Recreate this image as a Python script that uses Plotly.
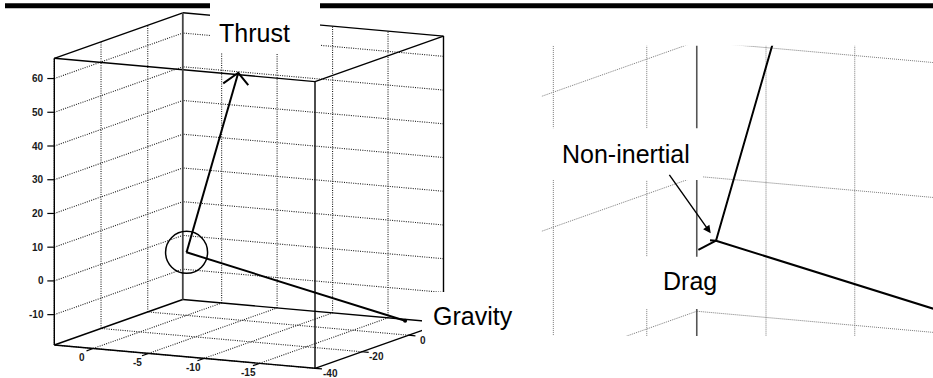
import numpy as np
import plotly.graph_objects as go

# ---------------- data ----------------
# main 3-D view: axis limits and ticks
x_lim = [-20.0, 3.5]
y_lim = [-40.0, 15.0]
z_lim = [-19.0, 66.0]
x_ticks = [0, -5, -10, -15]
y_ticks = [-40, -20, 0]
z_ticks = [-10, 0, 10, 20, 30, 40, 50, 60]

# zoomed view (right): limits and ticks
zx_lim = [-1.0, 0.156]
zy_lim = [-3.0, 0.535]
zz_lim = [-2.0, 2.0]
zx_ticks = [0, -0.2, -0.4, -0.6, -0.8, -1.0]
zy_ticks = [0, -1, -2, -3]
zz_ticks = [-2, -1, 0, 1, 2]

# body position and force vectors
body_position = [0.0, 0.0, -0.3]
thrust = [-4.66, 0.0, 54.6]
gravity = [-19.7, 0.0, -14.5]
drag = [-0.015, -0.26, 0.0]
non_inertial = [0.0135, 0.0, 0.0]

labels = ["Thrust", "Gravity", "Non-inertial", "Drag"]

# ---------------- camera (style) ----------------
W, H = 933, 378
EDGE_X = np.array([260.7, 23.3])   # screen span of x axis (from x max to x min)
EDGE_Y = np.array([128.5, -45.5])  # screen span of y axis (min -> max)
EDGE_Z = np.array([0.0, -286.7])   # screen span of z axis (min -> max)
MAIN_ANCHOR = np.array([54.3, 345.0])  # screen point of (xmax, ymin, zmin)
ZOOM_ANCHOR = np.array([716.0, 240.7])  # screen point of body in zoomed view
ZOOM_K = 40.0
ZOOM_BOX = [541.7, 933.0, 45.7, 336.0]  # u0, u1, v0, v1 of zoom viewport

ux = -EDGE_X / (x_lim[1] - x_lim[0])
uy = EDGE_Y / (y_lim[1] - y_lim[0])
uz = EDGE_Z / (z_lim[1] - z_lim[0])


def proj_main(p):
    x, y, z = p
    return MAIN_ANCHOR + ux * (x - x_lim[1]) + uy * (y - y_lim[0]) + uz * (z - z_lim[0])


def proj_zoom(p):
    x, y, z = p
    o = body_position
    return ZOOM_ANCHOR + ZOOM_K * (ux * (x - o[0]) + uy * (y - o[1]) + uz * (z - o[2]))


def segs(pairs, proj):
    us, vs = [], []
    for a, b in pairs:
        pa, pb = proj(a), proj(b)
        us += [pa[0], pb[0], None]
        vs += [pa[1], pb[1], None]
    return us, vs


def grid_pairs(xl, yl, zl, xt, yt, zt):
    x0, x1 = xl
    y0, y1 = yl
    z0, z1 = zl
    P = []
    # back wall (y = ymax)
    for t in xt:
        P.append(((t, y1, z0), (t, y1, z1)))
    for t in zt:
        P.append(((x0, y1, t), (x1, y1, t)))
    # left wall (x = xmax)
    for t in yt:
        P.append(((x1, t, z0), (x1, t, z1)))
    for t in zt:
        P.append(((x1, y0, t), (x1, y1, t)))
    return P


fig = go.Figure()
BLACK = "#000000"

# ---------- main view ----------
gp = grid_pairs(x_lim, y_lim, z_lim, x_ticks, y_ticks, z_ticks)
x0, x1 = x_lim
y0, y1 = y_lim
z0, z1 = z_lim
for t in x_ticks:
    gp.append(((t, y0, z0), (t, y1, z0)))
for t in y_ticks:
    gp.append(((x0, t, z0), (x1, t, z0)))
u, v = segs(gp, proj_main)
fig.add_trace(go.Scatter(x=u, y=v, mode="lines", hoverinfo="skip",
                         line=dict(color="#1e1e1e", width=1.1, dash="1px,1.3px")))

# box edges
box = []
for zz in (z0, z1):
    box += [((x1, y0, zz), (x0, y0, zz)), ((x0, y0, zz), (x0, y1, zz)),
            ((x0, y1, zz), (x1, y1, zz)), ((x1, y1, zz), (x1, y0, zz))]
for (xx, yy) in ((x1, y0), (x0, y0), (x0, y1)):
    box.append(((xx, yy, z0), (xx, yy, z1)))
u, v = segs(box, proj_main)
fig.add_trace(go.Scatter(x=u, y=v, mode="lines", hoverinfo="skip",
                         line=dict(color=BLACK, width=1.4)))
u, v = segs([((x1, y1, z0), (x1, y1, z1))], proj_main)
fig.add_trace(go.Scatter(x=u, y=v, mode="lines", hoverinfo="skip",
                         line=dict(color="#444444", width=1.8)))

# tick marks
TL = 7.0
tu, tv = [], []
ann = []
TICK_FONT = dict(family="Liberation Sans, Arial", size=10, color="#1a1a1a", weight="bold")
for t in z_ticks:
    p = proj_main((x1, y0, t))
    tu += [p[0], p[0] - TL, None]
    tv += [p[1], p[1], None]
    ann.append(dict(x=p[0] - TL - 1.5, y=p[1], text=str(t), xanchor="right", yanchor="middle",
                    showarrow=False, font=TICK_FONT, xref="x", yref="y"))
dny = -uy / np.linalg.norm(uy)
for t in x_ticks:
    p = proj_main((t, y0, z0))
    q = p + dny * TL
    tu += [p[0], q[0], None]
    tv += [p[1], q[1], None]
    ann.append(dict(x=p[0] - 11, y=p[1] + 9.5, text=str(t), xanchor="center", yanchor="middle",
                    showarrow=False, font=TICK_FONT, xref="x", yref="y"))
dnx = EDGE_X / np.linalg.norm(EDGE_X)
for t in y_ticks:
    p = proj_main((x0, t, z0))
    q = p + dnx * TL
    tu += [p[0], q[0], None]
    tv += [p[1], q[1], None]
    ann.append(dict(x=p[0] + 15, y=p[1] + 5, text=str(t), xanchor="center", yanchor="middle",
                    showarrow=False, font=TICK_FONT, xref="x", yref="y"))
fig.add_trace(go.Scatter(x=tu, y=tv, mode="lines", hoverinfo="skip",
                         line=dict(color=BLACK, width=1.2)))

# vectors (main)
O = np.array(body_position)
po = proj_main(O)
pt = proj_main(O + np.array(thrust))
pg = proj_main(O + np.array(gravity))
pd_ = proj_main(O + np.array(drag))
u = [po[0], pt[0], None, po[0], pg[0], None, po[0], pd_[0]]
v = [po[1], pt[1], None, po[1], pg[1], None, po[1], pd_[1]]
fig.add_trace(go.Scatter(x=u, y=v, mode="lines", hoverinfo="skip",
                         line=dict(color=BLACK, width=2)))


def rot(d, a):
    c, s = np.cos(a), np.sin(a)
    return np.array([d[0] * c - d[1] * s, d[0] * s + d[1] * c])


d = (po - pt) / np.linalg.norm(po - pt)
b1 = pt + rot(d, np.radians(38.7)) * 18.4
b2 = pt + rot(d, np.radians(-55)) * 15.9
fig.add_trace(go.Scatter(x=[b1[0], pt[0], b2[0]], y=[b1[1], pt[1], b2[1]], mode="lines",
                         hoverinfo="skip", line=dict(color=BLACK, width=2)))
fig.add_trace(go.Scatter(x=[pg[0]], y=[pg[1]], mode="markers", hoverinfo="skip",
                         marker=dict(color=BLACK, size=4)))

# ---------- zoomed view ----------
gz = grid_pairs(zx_lim, zy_lim, zz_lim, zx_ticks, zy_ticks, zz_ticks)
u, v = segs(gz, proj_zoom)
fig.add_trace(go.Scatter(x=u, y=v, mode="lines", hoverinfo="skip", xaxis="x2", yaxis="y2",
                         line=dict(color="#7a7a7a", width=1, dash="1px,1px")))
u, v = segs([((zx_lim[1], zy_lim[1], zz_lim[0]), (zx_lim[1], zy_lim[1], zz_lim[1]))], proj_zoom)
fig.add_trace(go.Scatter(x=u, y=v, mode="lines", hoverinfo="skip", xaxis="x2", yaxis="y2",
                         line=dict(color="#555555", width=1.6)))
qo = proj_zoom(O)
vec_u, vec_v = [], []
for vec in (thrust, gravity, drag, non_inertial):
    q = proj_zoom(O + np.array(vec))
    vec_u += [qo[0], q[0], None]
    vec_v += [qo[1], q[1], None]
fig.add_trace(go.Scatter(x=vec_u, y=vec_v, mode="lines", hoverinfo="skip", xaxis="x2", yaxis="y2",
                         line=dict(color=BLACK, width=2)))

# ---------- shapes ----------
shapes = [
    dict(type="circle", xref="x", yref="y", x0=po[0] - 21, x1=po[0] + 21, y0=po[1] - 21, y1=po[1] + 21,
         line=dict(color=BLACK, width=1.5), layer="above"),
    dict(type="rect", xref="x", yref="y", x0=5, x1=933, y0=3.3, y1=8.3,
         fillcolor=BLACK, line=dict(width=0), layer="above"),
]
white_boxes = [(210, 320, 0, 53), (422, 530, 292, 350), (545, 703, 128.3, 180), (590, 702, 256.7, 309)]
for (a, b, c, e) in white_boxes:
    shapes.append(dict(type="rect", xref="x", yref="y", x0=a, x1=b, y0=c, y1=e,
                       fillcolor="white", line=dict(width=0), layer="above"))

BIG = dict(family="Liberation Sans, Arial", size=25, color=BLACK)
label_pos = [(217, 33), (431, 316), (560, 153.5), (661, 281)]
for txt, (lx, ly) in zip(labels, label_pos):
    ann.append(dict(x=lx, y=ly, text=txt, xanchor="left", yanchor="middle", showarrow=False,
                    font=BIG, xref="x", yref="y"))

# non-inertial pointer arrow
ann.append(dict(x=qo[0] - 5.3, y=qo[1] - 7.4, ax=qo[0] - 47.7, ay=qo[1] - 67.4,
                xref="x", yref="y", axref="x", ayref="y", text="", showarrow=True,
                arrowhead=2, arrowsize=1.1, arrowwidth=1.4, arrowcolor=BLACK, standoff=0))

fig.update_layout(
    width=W, height=H, autosize=False,
    margin=dict(l=0, r=0, t=0, b=0, pad=0),
    paper_bgcolor="white", plot_bgcolor="rgba(0,0,0,0)", showlegend=False,
    xaxis=dict(range=[0, W], domain=[0, 1], visible=False, fixedrange=True),
    yaxis=dict(range=[H, 0], domain=[0, 1], visible=False, fixedrange=True),
    xaxis2=dict(range=[ZOOM_BOX[0], ZOOM_BOX[1]], domain=[ZOOM_BOX[0] / W, ZOOM_BOX[1] / W],
                visible=False, anchor="y2", fixedrange=True),
    yaxis2=dict(range=[ZOOM_BOX[3], ZOOM_BOX[2]], domain=[(H - ZOOM_BOX[3]) / H, (H - ZOOM_BOX[2]) / H],
                visible=False, anchor="x2", fixedrange=True),
    shapes=shapes, annotations=ann,
)

fig.write_html("out.html", config={"displayModeBar": False},
               post_script="document.body.style.margin='0px';document.body.style.overflow='hidden';")
